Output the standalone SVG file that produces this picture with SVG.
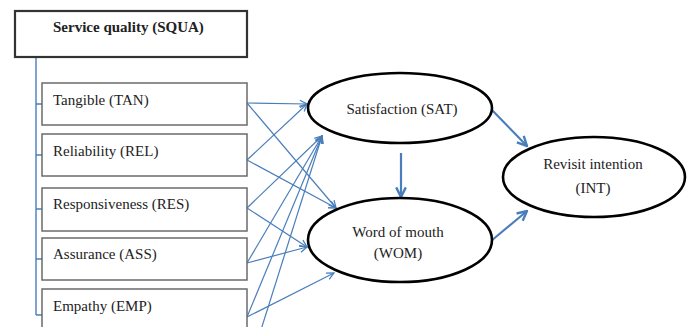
<svg xmlns="http://www.w3.org/2000/svg" width="688" height="327" viewBox="0 0 688 327">
<defs>
<style>
.box{fill:#fff;stroke:#6b6b6b;stroke-width:1.5}
.main{fill:#fff;stroke:#333;stroke-width:2.2}
.ell{fill:#fff;stroke:#000;stroke-width:2.6}
.t{font-family:'Liberation Serif','Times New Roman','DejaVu Serif',serif;font-size:15px;fill:#222}
.b{font-weight:bold}
.m{text-anchor:middle}
.thin{stroke:#4a7ebb;stroke-width:1.2;fill:none;marker-end:url(#ah)}
.thick{stroke:#4a7ebb;stroke-width:2.2;fill:none;marker-end:url(#ah2)}
.br{stroke:#4a7ebb;stroke-width:1.4;fill:none}
</style>
<marker id="ah" viewBox="0 0 10 10" refX="9" refY="5" markerWidth="9" markerHeight="9" markerUnits="userSpaceOnUse" orient="auto">
<path d="M1,1 L9,5 L1,9" fill="none" stroke="#4a7ebb" stroke-width="1.4"/>
</marker>
<marker id="ah2" viewBox="0 0 10 10" refX="9" refY="5" markerWidth="12" markerHeight="12" markerUnits="userSpaceOnUse" orient="auto">
<path d="M1,1 L9,5 L1,9" fill="none" stroke="#4a7ebb" stroke-width="2"/>
</marker>
</defs>
<rect width="688" height="327" fill="#fff"/>
<g id="connectors">
<path class="br" d="M36,57 V315 M36,104 H42 M36,155 H42 M36,209 H42 M36,259 H42 M36,315 H42"/>
<line class="thin" x1="247" y1="103" x2="307" y2="104"/>
<line class="thin" x1="247" y1="103" x2="336" y2="208"/>
<line class="thin" x1="247" y1="160" x2="307" y2="104"/>
<line class="thin" x1="247" y1="160" x2="336" y2="208"/>
<line class="thin" x1="247" y1="208" x2="322" y2="136"/>
<line class="thin" x1="247" y1="208" x2="307" y2="247"/>
<line class="thin" x1="247" y1="263" x2="322" y2="136"/>
<line class="thin" x1="247" y1="263" x2="307" y2="247"/>
<line class="thin" x1="247" y1="317" x2="322" y2="136"/>
<line class="thin" x1="247" y1="317" x2="334" y2="273"/>
<line class="thin" x1="260" y1="333" x2="322" y2="136"/>
<line class="thick" x1="401" y1="153" x2="401" y2="197"/>
<line class="thick" x1="491" y1="109" x2="527" y2="146"/>
<line class="thick" x1="491" y1="241" x2="527" y2="211"/>
</g>
<g id="squa">
<rect class="main" x="15" y="11" width="232" height="46"/>
<text class="t b" x="53" y="32">Service quality  (SQUA)</text>
</g>
<g id="tan">
<rect class="box" x="42" y="83" width="205" height="42"/>
<text class="t" x="53" y="105">Tangible (TAN)</text>
</g>
<g id="rel">
<rect class="box" x="42" y="134" width="205" height="42"/>
<text class="t" x="53" y="156">Reliability (REL)</text>
</g>
<g id="res">
<rect class="box" x="42" y="188" width="205" height="43"/>
<text class="t" x="53" y="209">Responsiveness (RES)</text>
</g>
<g id="ass">
<rect class="box" x="42" y="238" width="205" height="42"/>
<text class="t" x="53" y="259">Assurance (ASS)</text>
</g>
<g id="emp">
<rect class="box" x="42" y="289" width="205" height="44"/>
<text class="t" x="53" y="311">Empathy (EMP)</text>
</g>
<g id="sat">
<ellipse class="ell" cx="400" cy="108" rx="92" ry="35"/>
<text class="t m" x="402" y="114">Satisfaction (SAT)</text>
</g>
<g id="wom">
<ellipse class="ell" cx="400" cy="240" rx="92" ry="42"/>
<text class="t m" x="398" y="237">Word of mouth</text>
<text class="t m" x="398" y="258">(WOM)</text>
</g>
<g id="int">
<ellipse class="ell" cx="594" cy="177" rx="91" ry="40"/>
<text class="t m" x="593" y="169">Revisit intention</text>
<text class="t m" x="593" y="193">(INT)</text>
</g>
</svg>
